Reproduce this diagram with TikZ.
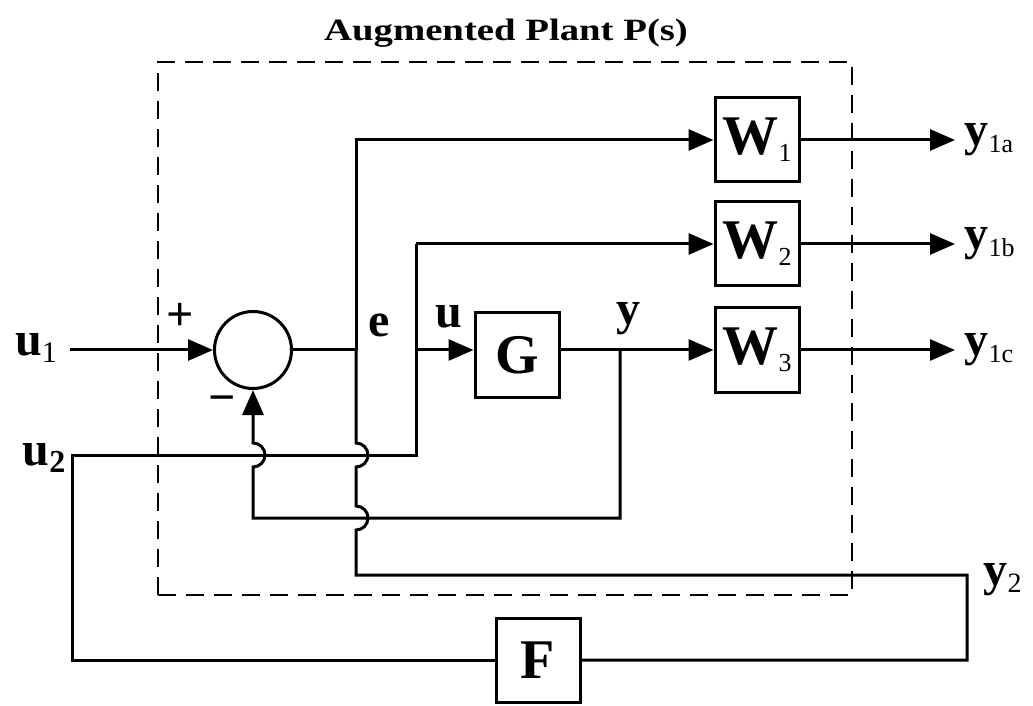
\documentclass[tikz,border=0pt]{standalone}
\usepackage{fontspec}
\setmainfont{Liberation Serif}
\usetikzlibrary{arrows.meta}
\newcommand\smsub[2]{\raisebox{-7pt}{\fontsize{#1}{#1}\selectfont\mdseries #2}}
\begin{document}
\begin{tikzpicture}[x=1pt,y=1pt,
  line width=3pt,
  arr/.style={-{Triangle[length=25pt,width=21pt]}},
  blk/.style={draw, line width=3pt, minimum width=84pt, minimum height=84pt, inner sep=0pt,
    font=\fontsize{56}{56}\selectfont\bfseries},
  lbl/.style={font=\fontsize{48}{48}\selectfont\bfseries, inner sep=0pt},
  sgn/.style={font=\fontsize{48}{48}\selectfont\bfseries, inner sep=0pt},
  frame/.style={line width=2pt, dash pattern=on 18pt off 10pt}
]
\useasboundingbox (0,0) rectangle (1033,705);
% augmented plant frame
\draw[frame] (158,110) rectangle (852,643);
\node[font=\fontsize{31}{31}\selectfont\bfseries] (title) at (506,672) {\scalebox{1.25}[1]{Augmented Plant P(s)}};
% blocks
\node[draw, circle, minimum size=77pt, inner sep=0pt, line width=3pt] (sum) at (253,355) {};
\node[blk] (G) at (517,350) {G};
\node[blk] (W1) at (757,565) {W\smsub{26}{1}};
\node[blk] (W2) at (757,461) {W\smsub{26}{2}};
\node[blk] (W3) at (757,355) {W\smsub{26}{3}};
\node[blk] (F) at (538,45) {F};
% labels
\node[lbl] (u1) at (36,357) {u\smsub{30}{1}};
\node[lbl] (u2) at (44,247) {u\smsub{32}{\bfseries 2}};
\node[lbl] (e) at (379,380) {e};
\node[lbl] (u) at (449,388) {u};
\node[lbl] (y) at (628,386) {y};
\node[sgn] (plus) at (180,388) {+};
\node[sgn] (minus) at (222,300) {−};
\node[lbl, anchor=west, inner xsep=8pt] (y1a) at (955,565) {y\smsub{26}{1a}};
\node[lbl, anchor=west, inner xsep=8pt] (y1b) at (955,461) {y\smsub{26}{1b}};
\node[lbl, anchor=west, inner xsep=8pt] (y1c) at (955,355) {y\smsub{26}{1c}};
\node[lbl, anchor=west] (y2) at (982,125) {y\smsub{28}{2}};
% coordinates
\coordinate (u1s) at (70,355);
\coordinate (eJ) at (356,355);
\coordinate (eTop) at (356,565);
\coordinate (eBot) at (356,130);
\coordinate (rc1) at (967,130);
\coordinate (rc2) at (967,45);
\coordinate (lc1) at (72,45);
\coordinate (lc2) at (72,250);
\coordinate (uJ) at (416,250);
\coordinate (uTop) at (416,461);
\coordinate (uG) at (416,355);
\coordinate (yJ) at (620,355);
\coordinate (fb1) at (620,187);
\coordinate (fb2) at (253,187);
% connectors
\draw[arr] (u1s) -- (sum.west);
\draw (sum.east) -- (eJ);
\draw[arr] (eJ) -- (eTop) -- (W1.west);
\draw (eJ) -- (356,262) arc[start angle=90,end angle=-90,radius=12]
  -- (356,199) arc[start angle=90,end angle=-90,radius=12]
  -- (eBot) -- (rc1) -- (rc2) -- (F.east);
\draw (F.west) -- (lc1) -- (lc2) -- (uJ) -- (uTop);
\draw[arr] (uTop) -- (W2.west);
\draw[arr] (uG) -- (G.west |- uG);
\draw[arr] (G.east |- yJ) -- (W3.west);
\draw[arr] (yJ) -- (fb1) -- (fb2) -- (253,238) arc[start angle=-90,end angle=90,radius=12] -- (sum.south);
\draw[arr] (W1.east) -- (y1a.west);
\draw[arr] (W2.east) -- (y1b.west);
\draw[arr] (W3.east) -- (y1c.west);
\end{tikzpicture}
\end{document}
